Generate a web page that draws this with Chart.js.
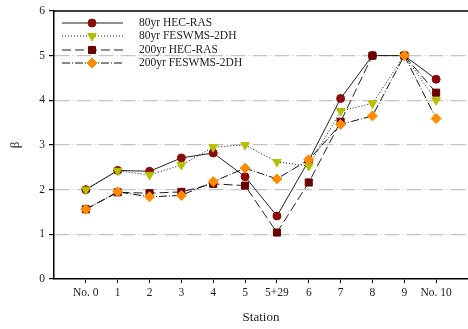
<!DOCTYPE html>
<html>
<head>
<meta charset="utf-8">
<script src="https://cdn.jsdelivr.net/npm/chart.js@4/dist/chart.umd.min.js"></script>
<style>
  html, body { margin: 0; padding: 0; background: #fff; overflow: hidden; }
  #wrap { width: 468px; height: 329px; overflow: hidden; }
</style>
</head>
<body>
<div id="wrap"><canvas id="chart" width="474" height="329"></canvas></div>
<script>
// ── Data ────────────────────────────────────────────────────
const stations = ['No. 0', '1', '2', '3', '4', '5', '5+29', '6', '7', '8', '9', 'No. 10'];
const yTicks   = [0, 1, 2, 3, 4, 5, 6];

const hec80  = [2.00, 2.43, 2.41, 2.71, 2.82, 2.29, 1.41, 2.65, 4.04, 5.00, 5.00, 4.47];
const fes80  = [2.00, 2.42, 2.33, 2.55, 2.95, 3.00, 2.62, 2.53, 3.76, 3.93, 5.00, 4.00];
const hec200 = [1.56, 1.94, 1.92, 1.95, 2.13, 2.09, 1.04, 2.16, 3.52, 5.00, 5.00, 4.17];
const fes200 = [1.56, 1.95, 1.84, 1.87, 2.18, 2.48, 2.24, 2.67, 3.46, 3.65, 5.00, 3.59];

const seriesNames = ['80yr HEC-RAS', '80yr FESWMS-2DH', '200yr HEC-RAS', '200yr FESWMS-2DH'];

const serif = "'Liberation Serif', 'DejaVu Serif', serif";
const toXY  = arr => arr.map((v, i) => ({ x: i, y: v }));

// ── Datasets ────────────────────────────────────────────────
const datasets = [
    { label: seriesNames[0], data: toXY(hec80), order: 3,
      borderColor: '#222', borderWidth: 1, borderDash: [],
      pointStyle: 'circle', pointRadius: 4, pointRotation: 0,
      pointBackgroundColor: '#8b0a0a', pointBorderColor: '#8b0a0a' },
    { label: seriesNames[1], data: toXY(fes80), order: 2,
      borderColor: '#111', borderWidth: 1, borderDash: [1, 2],
      pointStyle: 'triangle', pointRadius: 5, pointRotation: 180,
      pointBackgroundColor: '#b4c000', pointBorderColor: '#b4c000' },
    { label: seriesNames[2], data: toXY(hec200), order: 1,
      borderColor: '#222', borderWidth: 1, borderDash: [9, 4],
      pointStyle: 'rect', pointRadius: 5, pointRotation: 0,
      pointBackgroundColor: '#6a0000', pointBorderColor: '#6a0000' },
    { label: seriesNames[3], data: toXY(fes200), order: 0,
      borderColor: '#111', borderWidth: 1, borderDash: [8, 2, 1, 2],
      pointStyle: 'rectRot', pointRadius: 5, pointRotation: 0,
      pointBackgroundColor: '#ff8c00', pointBorderColor: '#ff8c00' },
];
datasets.forEach(d => { d.fill = false; d.tension = 0; d.pointBorderWidth = 1; });

// ── Plugins: top frame line + hand-drawn legend ──────────────
const frameTop = {
    id: 'frameTop',
    afterDraw(chart) {
        const { ctx, chartArea: a } = chart;
        ctx.save();
        ctx.strokeStyle = '#000';
        ctx.lineWidth = 1.5;
        ctx.beginPath();
        ctx.moveTo(a.left, a.top);
        ctx.lineTo(a.right, a.top);
        ctx.stroke();
        ctx.restore();
    }
};

const boxLegend = {
    id: 'boxLegend',
    afterDraw(chart) {
        const ctx = chart.ctx;
        const rowY = [23, 36, 50, 63];
        chart.data.datasets.forEach((d, i) => {
            const y = rowY[i];
            ctx.save();
            ctx.strokeStyle = d.borderColor;
            ctx.lineWidth = 1;
            ctx.setLineDash(d.borderDash);
            ctx.beginPath();
            ctx.moveTo(62, y);
            ctx.lineTo(123, y);
            ctx.stroke();
            ctx.setLineDash([]);
            ctx.fillStyle = d.pointBackgroundColor;
            ctx.strokeStyle = d.pointBorderColor;
            Chart.helpers.drawPoint(ctx, {
                pointStyle: d.pointStyle, radius: d.pointRadius,
                rotation: d.pointRotation, borderWidth: 1
            }, 92, y);
            ctx.fillStyle = '#222';
            ctx.font = '11.5px ' + serif;
            ctx.textBaseline = 'middle';
            ctx.fillText(d.label, 139, y);
            ctx.restore();
        });
    }
};

// ── Chart ───────────────────────────────────────────────────
new Chart(document.getElementById('chart'), {
    type: 'line',
    data: { datasets },
    plugins: [frameTop, boxLegend],
    options: {
        responsive: false,
        animation: false,
        layout: { padding: { top: 9, right: 0, left: 0, bottom: 0 } },
        plugins: { legend: { display: false }, tooltip: { enabled: false } },
        scales: {
            x: {
                type: 'linear',
                min: -1,
                max: 12,
                afterBuildTicks: s => { s.ticks = stations.map((_, i) => ({ value: i })); },
                afterFit: s => { s.height = 50; },
                grid: { drawOnChartArea: false, drawTicks: true, tickLength: 4, tickColor: '#000' },
                border: { color: '#000', width: 1.5 },
                ticks: {
                    autoSkip: false, maxRotation: 0, color: '#222', padding: 3,
                    font: { family: serif, size: 11.5 },
                    callback: v => stations[v] ?? ''
                },
                title: {
                    display: true, text: 'Station', color: '#222',
                    font: { family: serif, size: 13 }, padding: { top: 4, bottom: 4 }
                }
            },
            y: {
                min: 0,
                max: 6,
                afterBuildTicks: s => { s.ticks = yTicks.map(v => ({ value: v })); },
                afterFit: s => { s.width = 54; },
                grid: {
                    color: c => (c.tick && (c.tick.value === 0 || c.tick.value === 6)) ? 'rgba(0,0,0,0)' : '#c4c4c4',
                    lineWidth: 1.2,
                    tickLength: 5, tickColor: '#000'
                },
                border: { color: '#000', width: 1.5, dash: [15, 3, 1, 3] },
                ticks: {
                    color: '#222', padding: 4,
                    font: { family: serif, size: 11.5 }
                },
                title: {
                    display: true, text: 'β', color: '#222',
                    font: { family: serif, size: 13 }, padding: { top: 8, bottom: 4 }
                }
            }
        }
    }
});
</script>
</body>
</html>
